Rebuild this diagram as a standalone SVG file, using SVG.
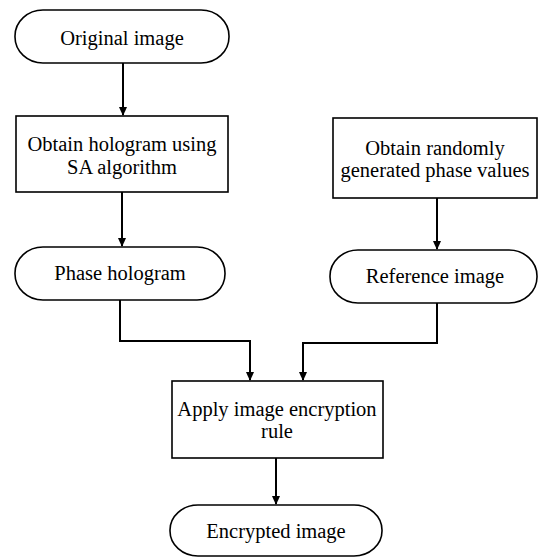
<svg xmlns="http://www.w3.org/2000/svg" width="539" height="557" viewBox="0 0 539 557">
<defs>
<marker id="ah" markerWidth="10" markerHeight="10" refX="8" refY="5" orient="auto" markerUnits="userSpaceOnUse">
<path d="M0,1 L9,5 L0,9 Z" fill="#000"/>
</marker>
<style>
.n{fill:#fff;stroke:#000;stroke-width:1.6}
.t{font-family:"Liberation Serif","Times New Roman",serif;font-size:20.5px;fill:#000;text-anchor:middle}
.c{fill:none;stroke:#000;stroke-width:2;marker-end:url(#ah)}
</style>
</defs>
<rect width="539" height="557" fill="#fff"/>
<g id="original"><rect class="n" x="15" y="10" width="214" height="53" rx="28" ry="26"/><text class="t" x="122" y="45">Original image</text></g>
<g id="obtain-hologram"><rect class="n" x="16" y="116" width="212" height="76"/><text class="t" x="122" y="151">Obtain hologram using</text><text class="t" x="122" y="174">SA algorithm</text></g>
<g id="phase-hologram"><rect class="n" x="15" y="247" width="210" height="53" rx="28" ry="26"/><text class="t" x="120" y="280">Phase hologram</text></g>
<g id="obtain-random"><rect class="n" x="333" y="118" width="204" height="80"/><text class="t" x="435" y="155">Obtain randomly</text><text class="t" x="435" y="177">generated phase values</text></g>
<g id="reference"><rect class="n" x="330" y="250" width="207" height="53" rx="28" ry="26"/><text class="t" x="435" y="283">Reference image</text></g>
<g id="apply"><rect class="n" x="172" y="381" width="211" height="77"/><text class="t" x="277" y="416">Apply image encryption</text><text class="t" x="277" y="438">rule</text></g>
<g id="encrypted"><rect class="n" x="170" y="505" width="212" height="51" rx="28" ry="25"/><text class="t" x="276" y="538">Encrypted image</text></g>
<g id="connectors">
<path class="c" d="M123,63 V115"/>
<path class="c" d="M122,192 V246"/>
<path class="c" d="M437,198 V249"/>
<path class="c" d="M120,300 V341 H250 V380"/>
<path class="c" d="M437,303 V343 H303 V380"/>
<path class="c" d="M276,458 V504"/>
</g>
</svg>
